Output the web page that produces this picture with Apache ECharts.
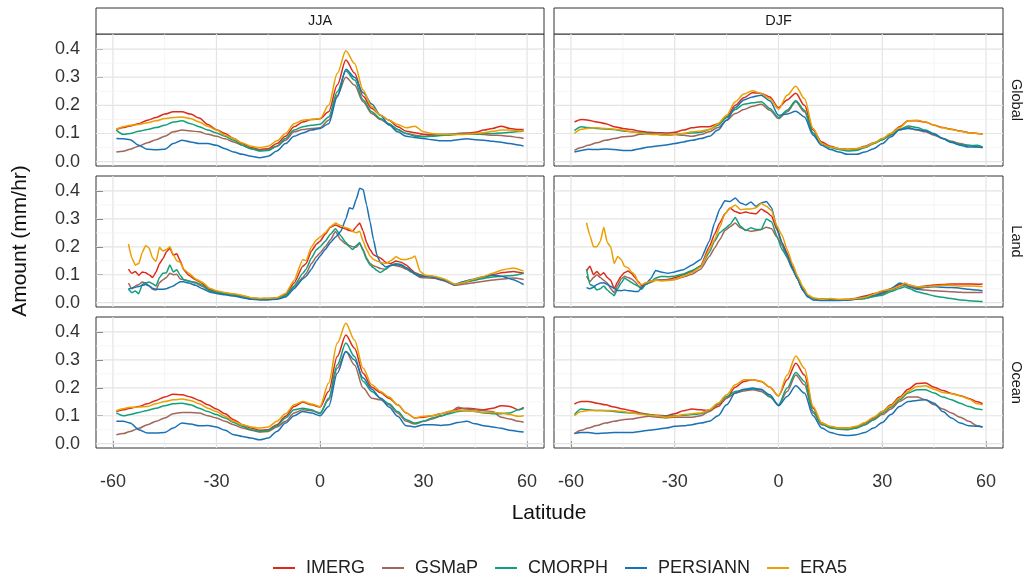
<!DOCTYPE html>
<html><head><meta charset="utf-8">
<script src="https://cdn.jsdelivr.net/npm/echarts@6/dist/echarts.min.js"></script>
<style>html,body{margin:0;padding:0;background:#fff}#c{width:1029px;height:579px}</style>
</head><body><div id="c"></div>
<script>
const seriesNames = ['IMERG','GSMaP','CMORPH','PERSIANN','ERA5'];
const seriesColors = ['#DC2A1B','#A0675A','#11A079','#1A72B5','#E9A000'];
const seasons = ['JJA','DJF'];
const regions = ['Global','Land','Ocean'];
const xTicks = [-60,-30,0,30,60];
const xMinor = [-45,-15,15,45];
const yTicks = [0,0.1,0.2,0.3,0.4];
const yMinor = [0.05,0.15,0.25,0.35];

// latitude grid for Global / Ocean panels
const lat = [-59,-57,-55,-52.5,-50,-47.5,-45,-42.5,-40,-37.5,
  -35,-32.5,-30,-27.5,-25,-22.5,-20,-17.5,-15,-12.5,
  -10,-7.5,-5,-2.5,0,2.5,5,7.5,10,12.5,
  15,17.5,20,22.5,25,27.5,30,32.5,35,37.5,
  40,42.5,45,47.5,50,52.5,55,57.5,59];

// JJA Global
const jjaGlobalIMERG = [0.114,0.121,0.127,0.135,0.147,0.157,0.169,0.177,0.177,0.169,
  0.155,0.132,0.113,0.100,0.082,0.064,0.050,0.043,0.046,0.064,
  0.090,0.124,0.141,0.150,0.152,0.177,0.272,0.361,0.315,0.232,
  0.189,0.165,0.147,0.124,0.108,0.103,0.097,0.096,0.096,0.096,
  0.100,0.102,0.104,0.112,0.118,0.126,0.118,0.114,0.114];
const jjaGlobalGSMaP = [0.034,0.037,0.044,0.055,0.067,0.078,0.090,0.106,0.112,0.109,
  0.106,0.097,0.090,0.081,0.070,0.058,0.046,0.040,0.043,0.055,
  0.076,0.106,0.114,0.118,0.120,0.147,0.236,0.300,0.272,0.213,
  0.171,0.150,0.133,0.114,0.100,0.094,0.090,0.094,0.096,0.097,
  0.100,0.100,0.100,0.096,0.094,0.093,0.090,0.086,0.082];
const jjaGlobalCMORPH = [0.112,0.097,0.100,0.108,0.114,0.121,0.129,0.141,0.145,0.135,
  0.124,0.112,0.102,0.090,0.076,0.058,0.046,0.038,0.040,0.055,
  0.082,0.112,0.124,0.129,0.133,0.159,0.248,0.322,0.290,0.219,
  0.177,0.153,0.135,0.114,0.100,0.090,0.088,0.090,0.093,0.094,
  0.097,0.097,0.097,0.100,0.100,0.102,0.104,0.107,0.109];
const jjaGlobalPERSIANN = [0.082,0.081,0.078,0.058,0.044,0.042,0.044,0.064,0.076,0.070,
  0.064,0.064,0.058,0.046,0.034,0.026,0.019,0.014,0.019,0.038,
  0.064,0.090,0.102,0.112,0.118,0.135,0.230,0.328,0.300,0.245,
  0.205,0.165,0.130,0.106,0.090,0.086,0.082,0.078,0.074,0.074,
  0.078,0.081,0.078,0.076,0.072,0.069,0.064,0.059,0.055];
const jjaGlobalERA5 = [0.115,0.124,0.129,0.132,0.138,0.145,0.153,0.157,0.159,0.153,
  0.141,0.126,0.112,0.094,0.082,0.066,0.055,0.050,0.055,0.074,
  0.100,0.135,0.147,0.150,0.153,0.200,0.313,0.394,0.349,0.254,
  0.195,0.165,0.147,0.132,0.120,0.126,0.106,0.100,0.097,0.096,
  0.096,0.097,0.100,0.103,0.108,0.112,0.112,0.109,0.109];

// DJF Global
const djfGlobalIMERG = [0.141,0.150,0.147,0.141,0.135,0.124,0.118,0.114,0.108,0.104,
  0.103,0.102,0.104,0.112,0.120,0.124,0.124,0.135,0.159,0.200,
  0.227,0.245,0.242,0.230,0.192,0.219,0.243,0.200,0.112,0.070,
  0.055,0.046,0.043,0.044,0.050,0.064,0.080,0.100,0.124,0.145,
  0.145,0.141,0.129,0.121,0.115,0.109,0.103,0.100,0.097];
const djfGlobalGSMaP = [0.040,0.050,0.058,0.067,0.076,0.082,0.088,0.090,0.097,0.100,
  0.097,0.094,0.096,0.094,0.090,0.096,0.106,0.121,0.147,0.171,
  0.185,0.197,0.204,0.183,0.153,0.177,0.213,0.177,0.100,0.064,
  0.052,0.046,0.043,0.046,0.055,0.067,0.078,0.094,0.112,0.121,
  0.112,0.106,0.094,0.082,0.072,0.064,0.058,0.052,0.050];
const djfGlobalCMORPH = [0.110,0.124,0.121,0.118,0.116,0.114,0.109,0.106,0.103,0.100,
  0.097,0.096,0.097,0.100,0.102,0.104,0.114,0.129,0.157,0.185,
  0.204,0.209,0.213,0.189,0.157,0.183,0.216,0.183,0.102,0.064,
  0.050,0.043,0.038,0.040,0.050,0.064,0.078,0.097,0.115,0.127,
  0.121,0.112,0.100,0.082,0.070,0.061,0.057,0.058,0.052];
const djfGlobalPERSIANN = [0.034,0.040,0.044,0.043,0.045,0.043,0.040,0.040,0.046,0.052,
  0.056,0.059,0.064,0.070,0.076,0.082,0.090,0.112,0.147,0.192,
  0.219,0.230,0.236,0.216,0.165,0.169,0.179,0.159,0.094,0.058,
  0.043,0.034,0.026,0.026,0.034,0.046,0.064,0.088,0.114,0.118,
  0.114,0.109,0.097,0.082,0.068,0.058,0.052,0.052,0.050];
const djfGlobalERA5 = [0.100,0.115,0.119,0.120,0.118,0.115,0.112,0.106,0.102,0.097,
  0.096,0.094,0.097,0.100,0.106,0.109,0.114,0.135,0.165,0.213,
  0.240,0.252,0.242,0.224,0.186,0.236,0.268,0.224,0.118,0.064,
  0.052,0.046,0.044,0.046,0.052,0.066,0.082,0.100,0.121,0.145,
  0.147,0.141,0.129,0.120,0.114,0.108,0.103,0.100,0.097];

// JJA Ocean
const jjaOceanIMERG = [0.115,0.121,0.127,0.133,0.143,0.155,0.167,0.177,0.175,0.167,
  0.155,0.139,0.124,0.107,0.086,0.068,0.056,0.048,0.050,0.068,
  0.098,0.133,0.148,0.139,0.131,0.187,0.312,0.389,0.342,0.252,
  0.202,0.183,0.163,0.139,0.110,0.092,0.095,0.100,0.107,0.115,
  0.124,0.127,0.124,0.121,0.127,0.136,0.133,0.121,0.130];
const jjaOceanGSMaP = [0.032,0.036,0.044,0.055,0.068,0.080,0.092,0.107,0.112,0.112,
  0.110,0.100,0.092,0.080,0.068,0.056,0.048,0.042,0.044,0.060,
  0.080,0.110,0.121,0.118,0.110,0.157,0.270,0.330,0.282,0.199,
  0.163,0.157,0.139,0.110,0.080,0.070,0.080,0.088,0.098,0.110,
  0.130,0.124,0.121,0.118,0.115,0.095,0.088,0.080,0.077];
const jjaOceanCMORPH = [0.110,0.100,0.104,0.112,0.119,0.127,0.136,0.143,0.145,0.139,
  0.127,0.115,0.104,0.092,0.076,0.062,0.050,0.044,0.048,0.064,
  0.092,0.121,0.127,0.121,0.107,0.163,0.282,0.360,0.312,0.223,
  0.187,0.163,0.143,0.115,0.086,0.074,0.080,0.092,0.100,0.107,
  0.115,0.118,0.115,0.110,0.107,0.107,0.110,0.121,0.127];
const jjaOceanPERSIANN = [0.080,0.080,0.074,0.050,0.038,0.038,0.040,0.056,0.074,0.070,
  0.064,0.065,0.060,0.048,0.032,0.026,0.020,0.014,0.020,0.044,
  0.074,0.100,0.115,0.110,0.100,0.133,0.252,0.330,0.300,0.235,
  0.195,0.163,0.131,0.098,0.064,0.060,0.068,0.068,0.065,0.068,
  0.076,0.080,0.071,0.064,0.060,0.055,0.048,0.044,0.042];
const jjaOceanERA5 = [0.118,0.125,0.130,0.131,0.133,0.143,0.151,0.157,0.160,0.155,
  0.143,0.127,0.115,0.098,0.080,0.068,0.060,0.056,0.060,0.080,
  0.107,0.139,0.151,0.142,0.133,0.217,0.360,0.431,0.371,0.270,
  0.211,0.187,0.167,0.139,0.110,0.092,0.098,0.100,0.107,0.115,
  0.119,0.118,0.115,0.112,0.112,0.110,0.104,0.098,0.100];

// DJF Ocean
const djfOceanIMERG = [0.142,0.151,0.151,0.145,0.139,0.131,0.124,0.118,0.110,0.104,
  0.102,0.100,0.107,0.118,0.124,0.121,0.118,0.133,0.163,0.202,
  0.223,0.229,0.223,0.202,0.171,0.229,0.288,0.246,0.127,0.074,
  0.060,0.056,0.056,0.060,0.074,0.092,0.115,0.139,0.167,0.195,
  0.215,0.217,0.202,0.190,0.180,0.172,0.162,0.150,0.143];
const djfOceanGSMaP = [0.036,0.048,0.056,0.065,0.074,0.080,0.086,0.088,0.094,0.098,
  0.095,0.092,0.095,0.095,0.095,0.100,0.115,0.139,0.163,0.181,
  0.189,0.193,0.187,0.167,0.139,0.187,0.246,0.211,0.110,0.068,
  0.060,0.052,0.052,0.056,0.068,0.086,0.104,0.124,0.151,0.167,
  0.167,0.157,0.139,0.124,0.110,0.095,0.080,0.064,0.060];
const djfOceanCMORPH = [0.104,0.124,0.121,0.119,0.118,0.115,0.112,0.110,0.107,0.104,
  0.100,0.098,0.100,0.102,0.104,0.107,0.121,0.143,0.169,0.187,
  0.193,0.196,0.195,0.169,0.139,0.199,0.255,0.223,0.115,0.071,
  0.056,0.052,0.050,0.056,0.068,0.086,0.110,0.131,0.157,0.181,
  0.193,0.193,0.181,0.167,0.157,0.145,0.133,0.124,0.121];
const djfOceanPERSIANN = [0.036,0.040,0.040,0.036,0.038,0.040,0.040,0.040,0.044,0.048,
  0.052,0.056,0.062,0.064,0.068,0.074,0.080,0.100,0.139,0.181,
  0.195,0.199,0.193,0.175,0.136,0.169,0.207,0.181,0.100,0.056,
  0.040,0.032,0.029,0.032,0.040,0.056,0.076,0.104,0.133,0.151,
  0.155,0.157,0.145,0.115,0.092,0.074,0.064,0.062,0.060];
const djfOceanERA5 = [0.100,0.115,0.119,0.119,0.119,0.118,0.115,0.110,0.106,0.102,
  0.100,0.095,0.098,0.104,0.107,0.110,0.121,0.145,0.175,0.211,
  0.229,0.229,0.223,0.202,0.171,0.246,0.314,0.270,0.133,0.074,
  0.062,0.056,0.056,0.062,0.076,0.095,0.115,0.136,0.163,0.187,
  0.205,0.207,0.195,0.183,0.179,0.171,0.160,0.143,0.139];

// JJA Land
const jjaLandLat = [-55.5,-54.5,-53.5,-52.5,-51.5,-50.5,-49.5,-48.5,-47.5,-46.5,
  -45.5,-44.5,-43.5,-42.5,-41.5,-40.5,-39.5,-38,-36,-34,
  -32,-30,-27.5,-25,-22.5,-20,-17.5,-15,-12.5,-10,
  -7.5,-5,-4,-2.5,-1,0,1.5,3,4.5,6,
  7.5,8.5,9.5,10.5,11.5,12.5,13.5,14.5,15.5,16.5,
  17.5,19,20.5,22,23.5,25,26.5,27.5,29,30.5,
  33,36,39,41,44,47,50,53,56,59];
const jjaLandIMERG = [0.120,0.105,0.112,0.098,0.110,0.107,0.100,0.090,0.110,0.140,
  0.158,0.182,0.195,0.170,0.175,0.150,0.118,0.098,0.082,0.068,
  0.047,0.040,0.034,0.030,0.024,0.017,0.014,0.015,0.017,0.030,
  0.070,0.130,0.140,0.185,0.210,0.220,0.245,0.270,0.278,0.270,
  0.264,0.258,0.256,0.272,0.285,0.256,0.215,0.190,0.172,0.165,
  0.160,0.145,0.140,0.149,0.145,0.135,0.118,0.107,0.100,0.096,
  0.093,0.080,0.063,0.071,0.080,0.090,0.100,0.108,0.112,0.105];
const jjaLandGSMaP = [0.070,0.050,0.060,0.065,0.074,0.070,0.060,0.048,0.045,0.072,
  0.082,0.090,0.105,0.100,0.102,0.085,0.082,0.078,0.070,0.058,
  0.042,0.036,0.031,0.027,0.021,0.015,0.012,0.012,0.014,0.024,
  0.055,0.090,0.105,0.140,0.165,0.178,0.200,0.225,0.255,0.225,
  0.210,0.205,0.200,0.198,0.212,0.190,0.160,0.140,0.132,0.128,
  0.122,0.120,0.135,0.132,0.128,0.120,0.110,0.102,0.090,0.089,
  0.087,0.078,0.062,0.065,0.070,0.076,0.081,0.085,0.088,0.083];
const jjaLandCMORPH = [0.048,0.036,0.042,0.032,0.065,0.071,0.074,0.068,0.060,0.090,
  0.105,0.107,0.135,0.110,0.118,0.098,0.082,0.077,0.073,0.062,
  0.044,0.037,0.032,0.028,0.022,0.015,0.012,0.013,0.015,0.026,
  0.060,0.105,0.120,0.160,0.190,0.200,0.220,0.245,0.265,0.240,
  0.215,0.200,0.190,0.205,0.215,0.185,0.155,0.135,0.125,0.115,
  0.108,0.120,0.133,0.140,0.137,0.125,0.110,0.105,0.097,0.095,
  0.092,0.082,0.066,0.070,0.078,0.086,0.092,0.095,0.097,0.105];
const jjaLandPERSIANN = [0.050,0.052,0.055,0.058,0.062,0.065,0.060,0.052,0.048,0.048,
  0.048,0.050,0.055,0.060,0.068,0.075,0.075,0.070,0.062,0.050,
  0.038,0.033,0.028,0.024,0.018,0.012,0.010,0.010,0.012,0.020,
  0.050,0.085,0.095,0.120,0.150,0.167,0.190,0.215,0.235,0.255,
  0.300,0.340,0.335,0.370,0.410,0.405,0.350,0.290,0.225,0.170,
  0.143,0.128,0.133,0.137,0.133,0.125,0.113,0.103,0.095,0.095,
  0.090,0.080,0.063,0.074,0.083,0.092,0.098,0.094,0.082,0.065];
const jjaLandERA5 = [0.210,0.160,0.135,0.140,0.180,0.205,0.195,0.160,0.148,0.198,
  0.185,0.190,0.200,0.172,0.150,0.145,0.120,0.105,0.085,0.072,
  0.052,0.043,0.036,0.032,0.026,0.018,0.015,0.016,0.018,0.033,
  0.080,0.155,0.150,0.200,0.225,0.235,0.250,0.272,0.285,0.276,
  0.268,0.265,0.255,0.250,0.256,0.220,0.190,0.167,0.155,0.149,
  0.145,0.140,0.150,0.164,0.155,0.155,0.160,0.167,0.112,0.098,
  0.095,0.085,0.066,0.070,0.082,0.092,0.105,0.118,0.124,0.113];

// DJF Land
const djfLandLat = [-55.5,-54.5,-53.5,-52.5,-51.5,-50.5,-49.5,-48.5,-47.5,-46.5,
  -45.5,-44.5,-43.5,-42.5,-41.5,-40.5,-39.5,-38.5,-37,-35.5,
  -34,-32,-30,-27.5,-25,-22.5,-20,-18.5,-17,-15.5,
  -14,-12.5,-11,-9.5,-8,-6.5,-5,-3.5,-2,-0.5,
  1,2.5,4,5.5,7,8.5,10,12.5,15,17.5,
  20,22.5,25,27.5,30,32.5,35,36.5,38,40,
  42.5,45,47.5,50,52.5,55,57.5,59];
const djfLandIMERG = [0.113,0.130,0.100,0.112,0.098,0.107,0.090,0.080,0.050,0.075,
  0.095,0.108,0.113,0.105,0.090,0.075,0.060,0.070,0.077,0.080,
  0.081,0.083,0.089,0.100,0.112,0.132,0.200,0.245,0.285,0.318,
  0.339,0.326,0.320,0.325,0.320,0.318,0.335,0.325,0.310,0.262,
  0.214,0.178,0.130,0.090,0.050,0.025,0.015,0.012,0.012,0.010,
  0.012,0.016,0.024,0.032,0.039,0.050,0.065,0.069,0.062,0.055,
  0.060,0.063,0.065,0.067,0.067,0.067,0.066,0.067];
const djfLandGSMaP = [0.095,0.075,0.090,0.100,0.090,0.080,0.070,0.050,0.035,0.062,
  0.085,0.095,0.090,0.085,0.075,0.060,0.054,0.065,0.072,0.080,
  0.082,0.081,0.083,0.092,0.102,0.120,0.165,0.195,0.225,0.258,
  0.272,0.285,0.268,0.260,0.256,0.258,0.262,0.270,0.265,0.235,
  0.205,0.160,0.120,0.085,0.045,0.022,0.015,0.011,0.010,0.010,
  0.010,0.012,0.015,0.022,0.031,0.045,0.057,0.063,0.055,0.048,
  0.045,0.043,0.041,0.039,0.037,0.036,0.036,0.036];
const djfLandCMORPH = [0.120,0.065,0.060,0.045,0.050,0.060,0.045,0.035,0.025,0.050,
  0.070,0.088,0.080,0.072,0.065,0.058,0.048,0.065,0.074,0.088,
  0.094,0.093,0.095,0.103,0.115,0.130,0.180,0.220,0.250,0.265,
  0.280,0.305,0.274,0.258,0.268,0.262,0.262,0.300,0.290,0.240,
  0.190,0.165,0.120,0.085,0.045,0.022,0.015,0.012,0.010,0.010,
  0.010,0.012,0.015,0.022,0.027,0.040,0.051,0.057,0.050,0.039,
  0.032,0.024,0.019,0.015,0.010,0.007,0.005,0.004];
const djfLandPERSIANN = [0.054,0.050,0.055,0.065,0.070,0.071,0.065,0.058,0.052,0.044,
  0.043,0.045,0.043,0.042,0.040,0.040,0.055,0.065,0.085,0.115,
  0.110,0.105,0.110,0.118,0.135,0.155,0.220,0.285,0.335,0.365,
  0.362,0.375,0.357,0.350,0.360,0.345,0.357,0.362,0.340,0.270,
  0.215,0.170,0.125,0.085,0.045,0.020,0.010,0.008,0.008,0.008,
  0.009,0.013,0.021,0.027,0.034,0.050,0.070,0.068,0.058,0.050,
  0.055,0.057,0.055,0.054,0.052,0.048,0.045,0.043];
const djfLandERA5 = [0.286,0.240,0.200,0.200,0.220,0.270,0.215,0.200,0.140,0.165,
  0.155,0.130,0.125,0.110,0.100,0.070,0.065,0.070,0.077,0.080,
  0.078,0.079,0.083,0.095,0.108,0.128,0.190,0.225,0.270,0.318,
  0.338,0.350,0.333,0.335,0.335,0.340,0.355,0.345,0.330,0.275,
  0.242,0.190,0.140,0.095,0.058,0.028,0.018,0.012,0.015,0.012,
  0.012,0.015,0.019,0.030,0.043,0.048,0.060,0.070,0.062,0.057,
  0.057,0.060,0.062,0.062,0.060,0.060,0.059,0.058];

const panels = [
  {lat: lat, smooth: 0.3, values: [jjaGlobalIMERG, jjaGlobalGSMaP, jjaGlobalCMORPH, jjaGlobalPERSIANN, jjaGlobalERA5]},
  {lat: lat, smooth: 0.3, values: [djfGlobalIMERG, djfGlobalGSMaP, djfGlobalCMORPH, djfGlobalPERSIANN, djfGlobalERA5]},
  {lat: jjaLandLat, smooth: 0.15, values: [jjaLandIMERG, jjaLandGSMaP, jjaLandCMORPH, jjaLandPERSIANN, jjaLandERA5]},
  {lat: djfLandLat, smooth: 0.15, values: [djfLandIMERG, djfLandGSMaP, djfLandCMORPH, djfLandPERSIANN, djfLandERA5]},
  {lat: lat, smooth: 0.3, values: [jjaOceanIMERG, jjaOceanGSMaP, jjaOceanCMORPH, jjaOceanPERSIANN, jjaOceanERA5]},
  {lat: lat, smooth: 0.3, values: [djfOceanIMERG, djfOceanGSMaP, djfOceanCMORPH, djfOceanPERSIANN, djfOceanERA5]}
];

const FONT = 'Liberation Sans, Arial, Helvetica, sans-serif';
const colLeft = [96, 554], colWidth = [448, 449];
const rowTop = [34, 176, 317], rowHeight = [132, 131, 131];
const X_MIN = -64.9, X_MAX = 64.9, Y_MIN = -0.0155, Y_MAX = 0.4535;

const grids = [], xAxes = [], yAxes = [], series = [];
for (let r = 0; r < 3; r++) {
  for (let c = 0; c < 2; c++) {
    const g = r * 2 + c;
    const bottom = r === 2, left = c === 0;
    grids.push({left: colLeft[c], top: rowTop[r], width: colWidth[c], height: rowHeight[r],
      show: true, borderColor: '#333', borderWidth: 1, backgroundColor: '#fff', containLabel: false});
    xAxes.push({gridIndex: g, type: 'value', min: X_MIN, max: X_MAX,
      axisLine: {show: false, onZero: false}, splitLine: {show: false},
      axisTick: {show: bottom, inside: true, length: 7, lineStyle: {color: '#333', width: 1}, customValues: xTicks},
      axisLabel: {show: bottom, customValues: xTicks, margin: 25, fontSize: 18, color: '#333', fontFamily: FONT,
        formatter: v => String(v)}});
    yAxes.push({gridIndex: g, type: 'value', min: Y_MIN, max: Y_MAX,
      axisLine: {show: false, onZero: false}, splitLine: {show: false},
      axisTick: {show: left, inside: true, length: 7, lineStyle: {color: '#333', width: 1}, customValues: yTicks},
      axisLabel: {show: left, customValues: yTicks, margin: 16, fontSize: 18, color: '#333', fontFamily: FONT,
        formatter: v => v.toFixed(1)}});
    const gl = [];
    xTicks.forEach(v => gl.push([v, 0, 0, 1]));
    xMinor.forEach(v => gl.push([v, 0, 0, 0]));
    yTicks.forEach(v => gl.push([0, v, 1, 1]));
    yMinor.forEach(v => gl.push([0, v, 1, 0]));
    series.push({type: 'custom', xAxisIndex: g, yAxisIndex: g, z: 1, silent: true, data: gl,
      encode: {x: 0, y: 1},
      renderItem: (params, api) => {
        const cs = params.coordSys;
        const major = api.value(3) === 1;
        const style = {stroke: major ? '#e4e4e4' : '#f0f0f0', lineWidth: major ? 1.2 : 0.7};
        if (api.value(2) === 0) {
          const x = api.coord([api.value(0), 0])[0];
          return {type: 'line', shape: {x1: x, y1: cs.y, x2: x, y2: cs.y + cs.height}, style};
        }
        const y = api.coord([0, api.value(1)])[1];
        return {type: 'line', shape: {x1: cs.x, y1: y, x2: cs.x + cs.width, y2: y}, style};
      }});
    const p = panels[g];
    seriesNames.forEach((name, k) => {
      series.push({name, type: 'line', xAxisIndex: g, yAxisIndex: g, z: 3,
        data: p.lat.map((x, i) => [x, p.values[k][i]]),
        showSymbol: false, symbol: 'none', smooth: p.smooth, smoothMonotone: 'x',
        color: seriesColors[k], lineStyle: {width: 1.5, color: seriesColors[k]}, animation: false});
    });
  }
}

const graphics = [];
for (let c = 0; c < 2; c++) {
  graphics.push({type: 'rect', shape: {x: colLeft[c], y: 8, width: colWidth[c], height: 26},
    style: {fill: '#fff', stroke: '#333', lineWidth: 1}});
  graphics.push({type: 'text', x: colLeft[c] + colWidth[c] / 2, y: 21,
    style: {text: seasons[c], fontSize: 14.5, fill: '#1a1a1a', fontFamily: FONT, align: 'center', verticalAlign: 'middle'}});
}
for (let r = 0; r < 3; r++) {
  graphics.push({type: 'text', x: 1016, y: rowTop[r] + rowHeight[r] / 2, rotation: -Math.PI / 2,
    style: {text: regions[r], fontSize: 14.5, fill: '#1a1a1a', fontFamily: FONT, align: 'center', verticalAlign: 'middle'}});
}
graphics.push({type: 'text', x: 20, y: 241, rotation: Math.PI / 2,
  style: {text: 'Amount (mm/hr)', fontSize: 21, fill: '#111', fontFamily: FONT, align: 'center', verticalAlign: 'middle'}});
graphics.push({type: 'text', x: 549, y: 513,
  style: {text: 'Latitude', fontSize: 21, fill: '#111', fontFamily: FONT, align: 'center', verticalAlign: 'middle'}});

const chart = echarts.init(document.getElementById('c'), null, {renderer: 'canvas'});
chart.setOption({
  animation: false,
  backgroundColor: '#fff',
  grid: grids, xAxis: xAxes, yAxis: yAxes, series,
  legend: {data: seriesNames, left: 268, top: 554, icon: 'rect', itemWidth: 22, itemHeight: 2, itemGap: 17,
    textStyle: {fontSize: 18, color: '#222', fontFamily: FONT, padding: [0, 0, 0, 6]}},
  graphic: graphics
});
</script>
</body></html>
